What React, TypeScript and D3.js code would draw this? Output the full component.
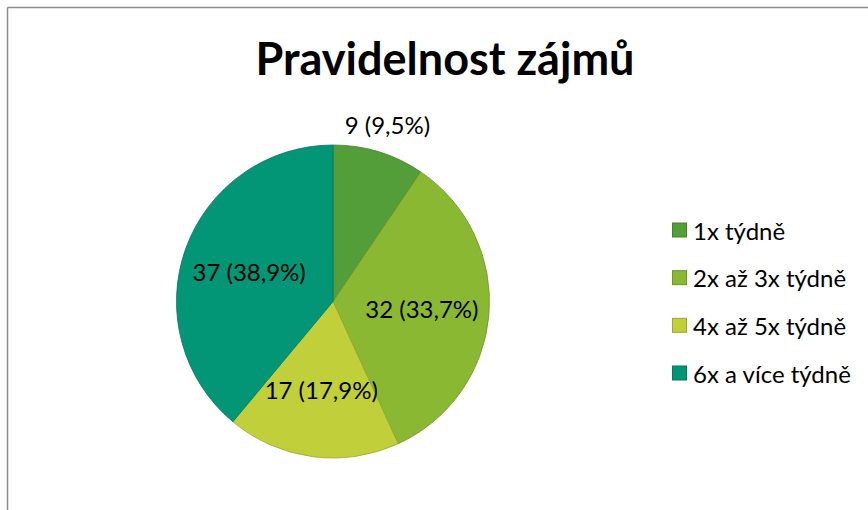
import React from "react";
import * as d3 from "d3";

const categories: string[] = ["1x týdně", "2x až 3x týdně", "4x až 5x týdně", "6x a více týdně"];
const values: number[] = [9, 32, 17, 37];
const percentLabels: string[] = ["9,5%", "33,7%", "17,9%", "38,9%"];
const colors: string[] = ["#549E39", "#8AB833", "#C0CF3A", "#029676"];
const title = "Pravidelnost zájmů";

const W = 868;
const H = 510;
const cx = 333;
const cy = 301.5;
const R = 156.5;

export default function App() {
  const pie = d3
    .pie<number>()
    .sort(null)
    .value((d) => d)
    .startAngle(0)
    .endAngle(2 * Math.PI);
  const arcs = pie(values);
  const arcGen = d3.arc<d3.PieArcDatum<number>>().innerRadius(0).outerRadius(R);
  const inner = d3.arc<d3.PieArcDatum<number>>().innerRadius(R * 0.57).outerRadius(R * 0.57);
  const outer = d3.arc<d3.PieArcDatum<number>>().innerRadius(R + 29).outerRadius(R + 29);

  const legendY = d3.scalePoint<string>().domain(categories).range([230, 373]);
  const font = "Lato, 'Open Sans', sans-serif";

  return (
    <svg
      width={W}
      height={H}
      style={{ position: "absolute", left: 0, top: 0, background: "#fff" }}
      fontFamily={font}
    >
      <line x1={7.5} y1={7.5} x2={W + 10} y2={7.5} stroke="#8c8c8c" strokeWidth={1.5} />
      <line x1={7.5} y1={7.5} x2={7.5} y2={H + 10} stroke="#8c8c8c" strokeWidth={1.5} />
      <text x={445} y={75} textAnchor="middle" fontSize={45} fontWeight={700} fill="#000">
        {title}
      </text>
      <g transform={`translate(${cx},${cy})`}>
        {arcs.map((a, i) => (
          <path
            key={i}
            d={arcGen(a) || ""}
            fill={colors[i]}
            stroke={d3.color(colors[i])!.darker(0.6).formatHex()}
            strokeWidth={0.8}
          />
        ))}
        {arcs.map((a, i) => {
          const frac = (a.endAngle - a.startAngle) / (2 * Math.PI);
          const [x, y] = frac < 0.12 ? outer.centroid(a) : inner.centroid(a);
          return (
            <text
              key={"l" + i}
              x={x}
              y={y}
              textAnchor="middle"
              dominantBaseline="central"
              fontSize={24}
              fill="#000"
            >
              {`${values[i]} (${percentLabels[i]})`}
            </text>
          );
        })}
      </g>
      {categories.map((c, i) => {
        const y = legendY(c)!;
        return (
          <g key={"g" + i}>
            <rect
              x={672.5}
              y={y - 7}
              width={14}
              height={14}
              fill={colors[i]}
              stroke={d3.color(colors[i])!.darker(0.6).formatHex()}
              strokeWidth={1}
            />
            <text x={693} y={y} dominantBaseline="central" fontSize={24} fill="#000">
              {c}
            </text>
          </g>
        );
      })}
    </svg>
  );
}
